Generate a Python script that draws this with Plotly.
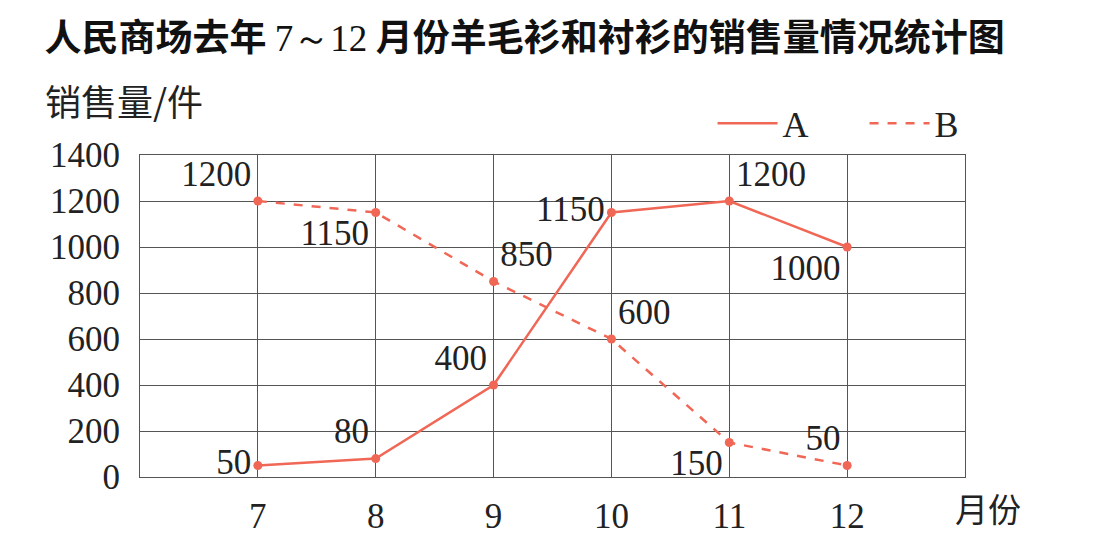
import plotly.graph_objects as go

# months and sales (pieces)
months = [7, 8, 9, 10, 11, 12]
sales_a = [50, 80, 400, 1150, 1200, 1000]
sales_b = [1200, 1150, 850, 600, 150, 50]

# where each value label sits around its point
pos_a = ["middle left", "top left", "top left", "middle left", "top right", "bottom left"]
pos_b = ["top left", "bottom left", "top right", "top right", "bottom left", "top left"]

y_ticks = [0, 200, 400, 600, 800, 1000, 1200, 1400]
x_grid = [6, 7, 8, 9, 10, 11, 12, 13]
x_labels = ["", "7", "8", "9", "10", "11", "12", ""]

red = "#f06756"
serif = "Liberation Serif"
cjk = "Noto Sans CJK SC"
label_font = dict(family=serif, size=35, color="#222")

fig = go.Figure()

# data traces (legend drawn by separate line-only entries)
fig.add_trace(go.Scatter(
    x=months, y=sales_a, name="A", showlegend=False,
    mode="lines+markers+text",
    line=dict(color=red, width=2.5),
    marker=dict(color=red, size=9),
    text=[str(v) for v in sales_a],
    textposition=pos_a,
    textfont=label_font,
))

fig.add_trace(go.Scatter(
    x=months, y=sales_b, name="B", showlegend=False,
    mode="lines+markers+text",
    line=dict(color=red, width=2.5, dash="dash"),
    marker=dict(color=red, size=9),
    text=[str(v) for v in sales_b],
    textposition=pos_b,
    textfont=label_font,
))

# legend entries: plain line samples, no markers
fig.add_trace(go.Scatter(x=[None], y=[None], name="A", mode="lines",
                         line=dict(color=red, width=2.5)))
fig.add_trace(go.Scatter(x=[None], y=[None], name="B", mode="lines",
                         line=dict(color=red, width=2.5, dash="dash")))

fig.update_layout(
    width=1105, height=540,
    margin=dict(l=132, r=148, t=147, b=69),
    plot_bgcolor="white", paper_bgcolor="white",
    title=dict(
        text="人民商场去年 <span style='font-family:Liberation Serif;font-weight:normal'>7～12</span> 月份羊毛衫和衬衫的销售量情况统计图",
        x=0.033, xanchor="left", y=0.945, yanchor="middle",
        font=dict(family=cjk, size=37, color="#111", weight="bold"),
    ),
    legend=dict(
        orientation="h", x=0.694, xanchor="left", y=1.005, yanchor="bottom",
        font=dict(family=serif, size=36, color="#222"),
        entrywidth=77, entrywidthmode="pixels",
        itemwidth=60, bgcolor="rgba(0,0,0,0)",
    ),
    xaxis=dict(
        range=[6, 13], tickvals=x_grid, ticktext=x_labels,
        showgrid=True, gridcolor="#555", gridwidth=1,
        showline=True, linecolor="#555", linewidth=1, mirror=True,
        zeroline=False, ticks="", ticklabelstandoff=8,
        tickfont=dict(family=serif, size=35, color="#222"),
    ),
    yaxis=dict(
        range=[0, 1400], tickvals=y_ticks,
        showgrid=True, gridcolor="#555", gridwidth=1,
        showline=True, linecolor="#555", linewidth=1, mirror=True,
        zeroline=False, ticks="", ticklabelstandoff=12,
        tickfont=dict(family=serif, size=35, color="#222"),
    ),
    annotations=[
        dict(text="销售量/件", xref="paper", yref="paper", x=-0.118, y=1.17,
             xanchor="left", yanchor="middle", showarrow=False,
             font=dict(family=cjk, size=36, color="#222")),
        dict(text="月份", xref="paper", yref="paper", x=0.985, y=-0.095,
             xanchor="left", yanchor="middle", showarrow=False,
             font=dict(family=cjk, size=33, color="#222")),
    ],
)

fig.write_html("out.html")
